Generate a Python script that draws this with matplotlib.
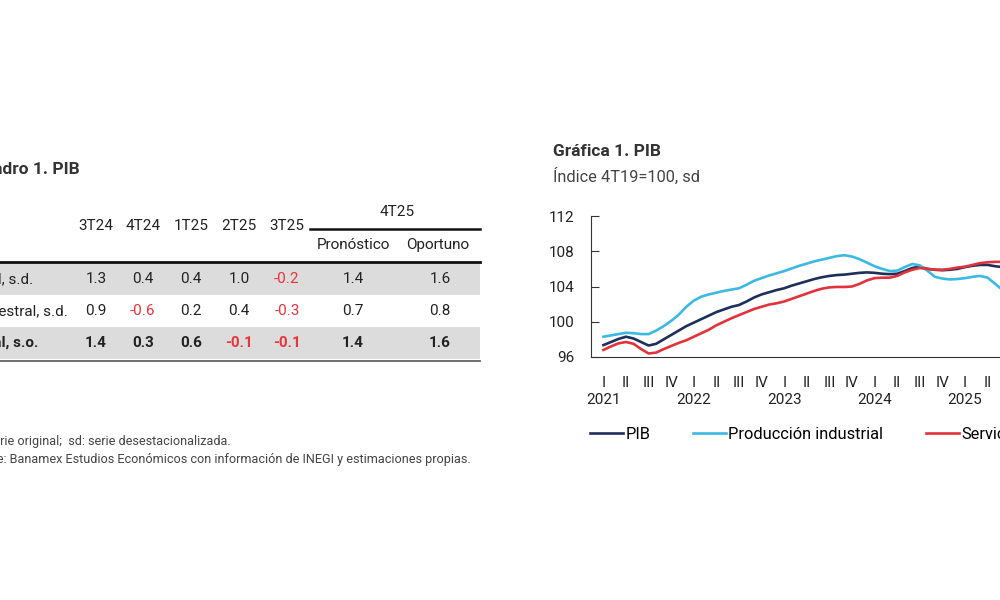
import matplotlib.pyplot as plt
import numpy as np

plt.rcParams['font.family'] = ['Roboto', 'DejaVu Sans']

# --- Cuadro 1 data ---
col_labels = ["3T24", "4T24", "1T25", "2T25", "3T25"]
row_labels = ["Anual, s.d.", "Trimestral, s.d.", "Anual, s.o."]
table_vals = [
    [1.3, 0.4, 0.4, 1.0, -0.2, 1.4, 1.6],
    [0.9, -0.6, 0.2, 0.4, -0.3, 0.7, 0.8],
    [1.4, 0.3, 0.6, -0.1, -0.1, 1.4, 1.6],
]

# --- Grafica 1 data (monthly, starting Jan 2021) ---
pib = [97.35, 97.7, 98.05, 98.3, 98.1, 97.7, 97.3, 97.5, 98.0, 98.5, 99.0, 99.5,
       99.9, 100.3, 100.7, 101.1, 101.4, 101.7, 101.9, 102.3, 102.75, 103.1, 103.35, 103.6,
       103.8, 104.1, 104.35, 104.6, 104.85, 105.05, 105.2, 105.3, 105.35, 105.45, 105.55, 105.6,
       105.55, 105.45, 105.4, 105.45, 105.75, 106.1, 106.25, 106.0, 105.9, 105.85, 105.9, 106.0,
       106.2, 106.35, 106.45, 106.45, 106.3, 106.2]
prod_ind = [98.3, 98.45, 98.6, 98.75, 98.7, 98.6, 98.6, 99.0, 99.5, 100.1, 100.8, 101.7,
            102.4, 102.85, 103.1, 103.3, 103.5, 103.65, 103.8, 104.2, 104.65, 104.95, 105.25, 105.5,
            105.75, 106.05, 106.35, 106.6, 106.85, 107.05, 107.25, 107.45, 107.55, 107.4, 107.1, 106.7,
            106.3, 106.0, 105.75, 105.8, 106.2, 106.55, 106.4, 105.8, 105.1, 104.9, 104.8, 104.85,
            104.95, 105.1, 105.2, 105.0, 104.3, 103.6]
servicios = [96.8, 97.2, 97.55, 97.7, 97.5, 96.9, 96.4, 96.5, 96.9, 97.25, 97.6, 97.9,
             98.3, 98.7, 99.1, 99.6, 100.0, 100.4, 100.75, 101.1, 101.45, 101.7, 101.95, 102.1,
             102.3, 102.6, 102.9, 103.2, 103.5, 103.75, 103.9, 103.95, 103.95, 104.0, 104.3, 104.7,
             104.95, 105.0, 105.0, 105.2, 105.6, 105.9, 106.1, 106.0, 105.9, 105.9, 106.0, 106.15,
             106.25, 106.45, 106.65, 106.75, 106.8, 106.8]
years = ["2021", "2022", "2023", "2024", "2025"]
quarters = ["I", "II", "III", "IV"]

fig = plt.figure(figsize=(10, 6), dpi=100)

# overlay in pixel coords for the table
tab = fig.add_axes([0, 0, 1, 1])
tab.set_xlim(0, 1000)
tab.set_ylim(600, 0)
tab.axis("off")

txt = "#222222"
red = "#e8343c"
fs = 11
tab.text(80, 170, "Cuadro 1. PIB", ha="right", va="center", fontsize=12.5,
         fontweight="bold", color="#333333")

col_x = [96, 143, 191, 239, 287, 353, 440]
for x, lab in zip(col_x[:5], col_labels):
    tab.text(x, 226, lab, ha="center", va="center", fontsize=fs, color=txt)
tab.text(397, 212, "4T25", ha="center", va="center", fontsize=fs, color=txt)
tab.plot([310, 480], [229, 229], color="#111111", lw=1.8)
tab.text(353, 245, "Pronóstico", ha="center", va="center", fontsize=fs, color=txt)
tab.text(438, 245, "Oportuno", ha="center", va="center", fontsize=fs, color=txt)

row_y = [279, 311, 343]
label_end = [33, 68, 38]
for i, (y, lab) in enumerate(zip(row_y, row_labels)):
    bold = i == 2
    if i != 1:
        tab.fill_between([0, 480], y - 16, y + 16, color="#dcdcdc", lw=0)
    tab.text(label_end[i], y, lab, ha="right", va="center", fontsize=fs, color=txt,
             fontweight="bold" if bold else "normal")
    for x, v in zip(col_x, table_vals[i]):
        tab.text(x, y, f"{v:.1f}", ha="center", va="center", fontsize=fs,
                 color=red if v < 0 else txt, fontweight="bold" if bold else "normal")
tab.plot([0, 480], [262, 262], color="#111111", lw=2)
tab.plot([0, 480], [361, 361], color="#555555", lw=1.2)

tab.text(-33, 441, "so: serie original;  sd: serie desestacionalizada.", ha="left",
         va="center", fontsize=9.1, color="#444444")
tab.text(-35, 459, "Fuente: Banamex Estudios Económicos con información de INEGI y estimaciones propias.",
         ha="left", va="center", fontsize=9.1, color="#444444")

# chart titles
tab.text(553, 152, "Gráfica 1. PIB", ha="left", va="center", fontsize=12.5,
         fontweight="bold", color="#333333")
tab.text(553, 176, "Índice 4T19=100, sd", ha="left", va="center", fontsize=11.8, color="#444444")

# --- line chart (extends beyond right edge) ---
ax = fig.add_axes([0.591, 0.405, 0.6, 0.235])
t = np.arange(len(pib)) / 3.0
ax.plot(t, pib, color="#1f2f5c", lw=1.9, label="PIB")
ax.plot(t, prod_ind, color="#3cb9e2", lw=1.9, label="Producción industrial")
ax.plot(t, servicios, color="#e2323a", lw=1.9, label="Servicios")
ax.set_ylim(96, 112)
ax.set_yticks([96, 100, 104, 108, 112])
ax.set_xlim(-0.55, 26)

qpos = np.arange(len(years) * 4 + 4)
qlabs = []
for k in qpos:
    q = quarters[k % 4]
    if k % 4 == 0 and k // 4 < len(years):
        q = q + "\n" + years[k // 4]
    qlabs.append(q)
ax.set_xticks(qpos)
ax.set_xticklabels(qlabs, fontsize=11, color=txt, linespacing=1.25)
ax.tick_params(axis="x", length=0, pad=14)
ax.tick_params(axis="y", direction="in", length=6, labelsize=11, labelcolor=txt,
               color="#333333", pad=12)
for lab in ax.get_xticklabels():
    lab.set_va("top")
ax.spines[["top", "right"]].set_visible(False)
ax.spines[["left", "bottom"]].set_color("#333333")

ax.legend(loc="upper left", bbox_to_anchor=(-0.012, -0.45), ncol=3, frameon=False,
          fontsize=11.8, handlelength=2.0, handletextpad=0.15, columnspacing=2.6,
          borderaxespad=0)

fig.savefig("out.png", dpi=100)
